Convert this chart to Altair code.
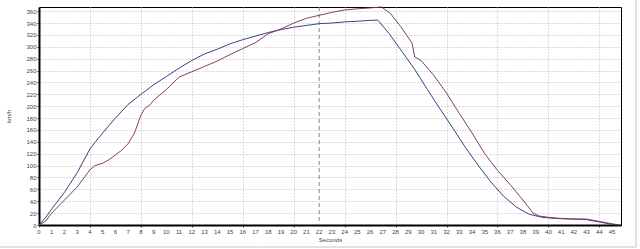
import altair as alt
import pandas as pd

# Run 1 (navy line)
run1_t = [0, 0.5, 1, 2, 3, 4, 4.4, 5, 6, 7, 8, 9, 10, 11, 12, 13, 14, 15, 16, 17, 18,
          19, 20, 21, 22, 23, 24, 25, 26, 26.6, 27.5, 28.5, 29.5, 30.5, 31.5, 32.5,
          33.5, 34.5, 35.5, 36.5, 37.5, 38.5, 39.5, 40.5, 42, 43, 44, 45, 45.6]
run1_v = [0, 12, 27, 55, 88, 128, 139, 155, 180, 203, 220, 236, 250, 264, 277, 288, 296,
          305, 312, 318, 324, 329, 333, 336, 339, 340, 342, 343, 344.5, 345, 322, 292,
          262, 228, 195, 163, 130, 100, 72, 48, 30, 18, 13, 11, 10, 9, 5, 1, 0]

# Run 2 (maroon line)
run2_t = [0, 0.5, 1, 2, 3, 4, 4.4, 5, 5.5, 6, 6.5, 7, 7.5, 8, 8.3, 8.7, 9, 10, 11, 12, 13,
          14, 15, 16, 17, 17.6, 18, 19, 20, 21, 22, 23, 24, 25, 26, 26.9, 27.6, 28.4,
          29.3, 29.5, 30, 31, 32, 33, 34, 35, 36, 37, 38, 38.8, 39.3, 40, 41, 42, 43,
          44, 45, 45.6]
run2_v = [0, 6, 20, 42, 64, 93, 100, 104, 110, 118, 126, 137, 155, 185, 196, 202, 210,
          228, 249, 258, 267, 276, 287, 297, 307, 316, 322, 330, 340, 348, 353, 358, 362,
          364, 365.5, 367, 356, 334, 306, 283, 277, 252, 222, 188, 155, 120, 92, 68, 42,
          20, 15, 13, 11, 10, 10, 6, 2, 0]

x_ticks = list(range(0, 46))
y_ticks = list(range(0, 361, 20))
marker_t = [22]

df = pd.concat([
    pd.DataFrame({"t": run1_t, "v": run1_v, "run": "Run 1", "o": range(len(run1_t))}),
    pd.DataFrame({"t": run2_t, "v": run2_v, "run": "Run 2", "o": range(len(run2_t))}),
])

W, H = 582, 218
FONT = "Liberation Sans"

xscale = alt.Scale(domain=[0, 45.7], nice=False, zero=False)
yscale = alt.Scale(domain=[0, 367], nice=False)

lines = alt.Chart(df).mark_line(strokeWidth=1, opacity=0.95).encode(
    x=alt.X("t:Q", scale=xscale, title="Seconds",
            axis=alt.Axis(values=x_ticks, labels=False, titleFont=FONT, titleFontSize=6,
                          titleFontWeight="normal", titleColor="#444", titlePadding=9,
                          domainColor="black", domainWidth=2, tickSize=2, tickColor="#444",
                          grid=True, gridColor="#b8b8b8",
                          gridDash=[1, 2], gridWidth=1)),
    y=alt.Y("v:Q", scale=yscale, title="km/h",
            axis=alt.Axis(values=y_ticks, labelFontSize=6, labelFont=FONT,
                          labelColor="#444", titleFont=FONT, titleFontSize=6,
                          titleFontWeight="normal", titleColor="#444", titlePadding=14,
                          domainColor="black", domainWidth=2, tickSize=2, tickColor="#444",
                          labelPadding=1, grid=True, gridColor="#b8b8b8",
                          gridDash=[1, 2], gridWidth=1, labelFlush=False,
                          labelOverlap=False)),
    color=alt.Color("run:N", scale=alt.Scale(domain=["Run 1", "Run 2"],
                                             range=["#34347e", "#7e3556"]), legend=None),
    order="o:Q",
)

xlabels = alt.Chart(pd.DataFrame({"t": x_ticks})).mark_text(
    font=FONT, fontSize=6, color="#444", baseline="middle", align="center").encode(
    x=alt.X("t:Q", scale=xscale), y=alt.value(H + 7), text=alt.Text("t:Q", format="d"))

marker = alt.Chart(pd.DataFrame({"t": marker_t})).mark_rule(
    color="#888", strokeDash=[4, 3], strokeWidth=1).encode(x=alt.X("t:Q", scale=xscale))

frame_bottom = alt.Chart(pd.DataFrame({"a": [0]})).mark_rule(color="#c4c4c4", strokeWidth=1).encode(
    x=alt.value(-39), x2=alt.value(597), y=alt.value(240))
frame_right = alt.Chart(pd.DataFrame({"a": [0]})).mark_rule(color="#c4c4c4", strokeWidth=1).encode(
    x=alt.value(597), y=alt.value(-7), y2=alt.value(240))

chart = alt.layer(marker, lines, xlabels, frame_bottom, frame_right).properties(
    width=W, height=H,
    autosize=alt.AutoSizeParams(type="none"),
    padding={"left": 39, "top": 7, "right": 19, "bottom": 24},
    background="white",
).configure_view(stroke="black", strokeWidth=1)

chart.save("out.html", embed_options={"renderer": "svg", "actions": False})
